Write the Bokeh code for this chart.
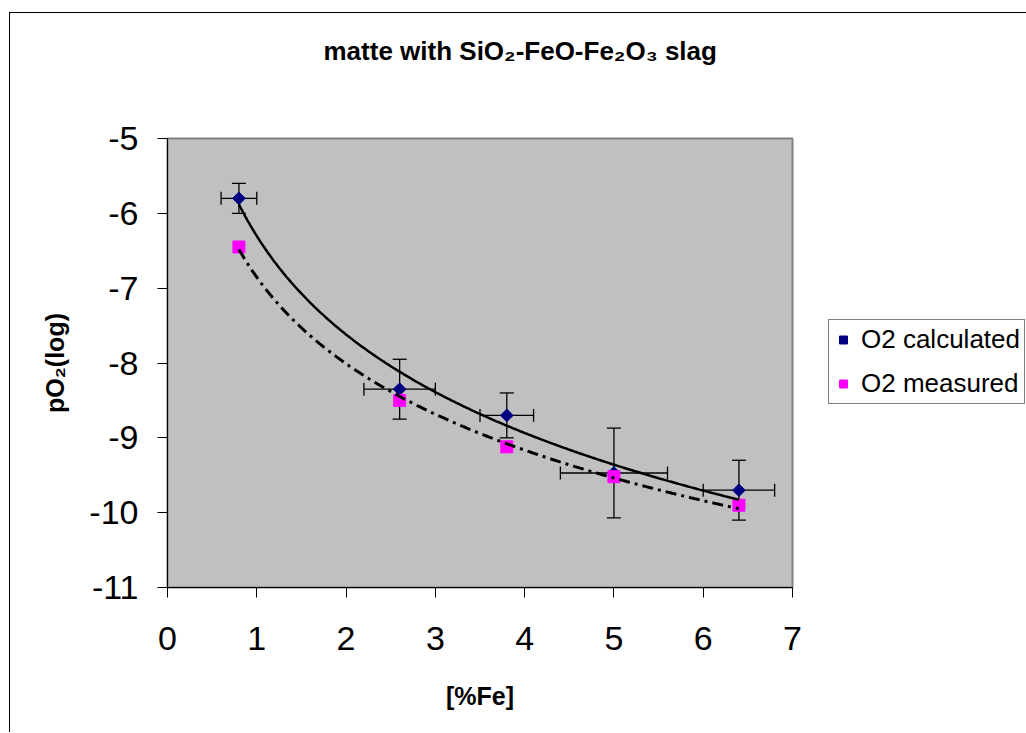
import numpy as np
from bokeh.plotting import figure
from bokeh.models import (ColumnDataSource, Whisker, TeeHead, Legend, LegendItem,
                          FixedTicker, Range1d, Title)
from bokeh.embed import file_html
from bokeh.resources import INLINE

# ---------------- data ----------------
fe_pct = [0.8, 2.6, 3.8, 5.0, 6.4]
o2_calculated = [-5.8, -8.35, -8.7, -9.47, -9.7]
o2_measured = [-6.45, -8.5, -9.12, -9.52, -9.9]
fe_err = [0.2, 0.4, 0.3, 0.6, 0.4]
o2_err = [0.2, 0.4, 0.3, 0.6, 0.4]

x_ticks = [0, 1, 2, 3, 4, 5, 6, 7]
x_tick_labels = ["0", "1", "2", "3", "4", "5", "6", "7"]
y_ticks = [-11, -10, -9, -8, -7, -6, -5]
y_tick_labels = ["-11", "-10", "-9", "-8", "-7", "-6", "-5"]

title_text = "matte with SiO\u2082-FeO-Fe\u2082O\u2083 slag"
x_title = "[%Fe]"
y_title = "pO\u2082(log)"
series_names = ["O2 calculated", "O2 measured"]

# ---------------- figure ----------------
FONT = "Liberation Sans"
W, H = 1014, 719
FRAME_TOP, FRAME_LEFT = 125, 157
FRAME_W, FRAME_H = 625, 449

p = figure(frame_width=FRAME_W, frame_height=FRAME_H,
           output_backend="svg", toolbar_location=None,
           x_range=Range1d(0, 7), y_range=Range1d(-11, -5),
           min_border_left=FRAME_LEFT, min_border_right=W - FRAME_LEFT - FRAME_W,
           min_border_top=FRAME_TOP, min_border_bottom=H - FRAME_TOP - FRAME_H)
p.styles = {"border-left": "1px solid #000000", "border-top": "1px solid #000000",
            "margin-top": "12px", "margin-left": "9px"}

p.background_fill_color = "#C0C0C0"
p.border_fill_color = "white"
p.outline_line_color = "#808080"
p.outline_line_width = 2
p.grid.visible = False

p.title.text = title_text
p.title.text_font = FONT
p.title.text_font_size = "26px"
p.title.text_font_style = "bold"
p.title.text_color = "black"
p.title.align = "left"
p.title.offset = 156
p.title.standoff = 10

# empty spacer between the title and the plot frame
p.add_layout(Title(text=" ", text_font_size="1px", standoff=65), "above")

for ax in (p.xaxis[0], p.yaxis[0]):
    ax.axis_line_color = "black"
    ax.axis_line_width = 1
    ax.major_tick_line_color = "black"
    ax.major_tick_in = 0
    ax.major_tick_out = 10
    ax.minor_tick_line_color = None
    ax.major_label_text_font = FONT
    ax.major_label_text_font_size = "34px"
    ax.major_label_text_color = "black"
    ax.axis_label_text_font = FONT
    ax.axis_label_text_font_style = "bold"
    ax.axis_label_text_color = "black"

p.xaxis.ticker = FixedTicker(ticks=x_ticks)
p.xaxis.major_label_overrides = dict(zip(x_ticks, x_tick_labels))
p.xaxis.major_label_standoff = 29
p.xaxis.axis_label = x_title
p.xaxis.axis_label_text_font_size = "25px"
p.xaxis.axis_label_standoff = 29

p.yaxis.ticker = FixedTicker(ticks=y_ticks)
p.yaxis.major_label_overrides = dict(zip(y_ticks, y_tick_labels))
p.yaxis.major_label_standoff = 19
p.yaxis.axis_label = y_title
p.yaxis.axis_label_text_font_size = "25px"
p.yaxis.axis_label_standoff = 17

# ---------------- error bars ----------------
src = ColumnDataSource(dict(
    x=fe_pct, y=o2_calculated,
    xl=[a - e for a, e in zip(fe_pct, fe_err)],
    xu=[a + e for a, e in zip(fe_pct, fe_err)],
    yl=[a - e for a, e in zip(o2_calculated, o2_err)],
    yu=[a + e for a, e in zip(o2_calculated, o2_err)],
))

def head(sz):
    return TeeHead(size=sz, line_color="black", line_width=1.3)

p.add_layout(Whisker(source=src, base="x", lower="yl", upper="yu", dimension="height",
                     line_color="black", line_width=1.3,
                     lower_head=head(14), upper_head=head(14)))
p.add_layout(Whisker(source=src, base="y", lower="xl", upper="xu", dimension="width",
                     line_color="black", line_width=1.3,
                     lower_head=head(13), upper_head=head(13)))

# ---------------- markers ----------------
r_calc = p.scatter("x", "y", source=src, marker="square", angle=np.pi / 4, size=9,
                   fill_color="#000080", line_color="#000080")
r_meas = p.scatter(fe_pct, o2_measured, marker="square", size=12,
                   fill_color="#FF00FF", line_color="#FF00FF")

# ---------------- logarithmic trendlines ----------------
lx = np.log(np.array(fe_pct))
xs = np.linspace(min(fe_pct), max(fe_pct), 300)
b1, a1 = np.polyfit(lx, np.array(o2_calculated), 1)
b2, a2 = np.polyfit(lx, np.array(o2_measured), 1)
p.line(xs, a1 + b1 * np.log(xs), line_color="black", line_width=2.5)
p.line(xs, a2 + b2 * np.log(xs), line_color="black", line_width=3, line_dash="11 5 3 5")

# ---------------- legend ----------------
legend = Legend(items=[LegendItem(label=series_names[0], renderers=[r_calc]),
                       LegendItem(label=series_names[1], renderers=[r_meas])],
                location=(36, 183), margin=0, padding=4,
                border_line_color="black", border_line_width=1,
                background_fill_color="white", background_fill_alpha=1,
                glyph_width=20, glyph_height=29, label_height=29,
                label_standoff=8, spacing=13,
                label_text_font=FONT, label_text_font_size="26px",
                label_text_color="black")
p.add_layout(legend, "right")

open("out.html", "w").write(file_html(p, INLINE))
